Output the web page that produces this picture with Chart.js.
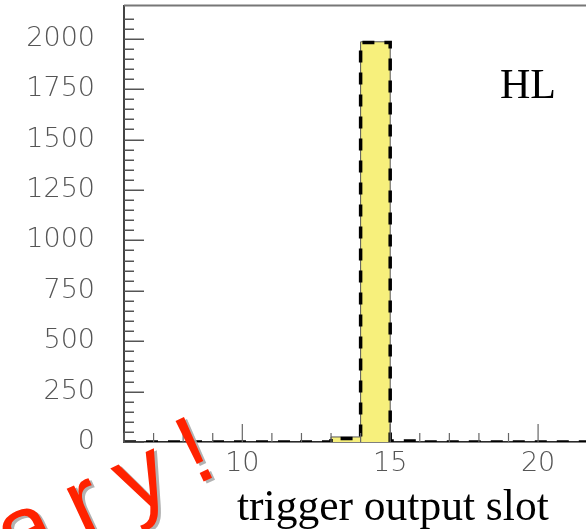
<!DOCTYPE html>
<html><head><meta charset="utf-8">
<script src="https://cdn.jsdelivr.net/npm/chart.js@4.4.0/dist/chart.umd.min.js"></script>
<style>html,body{margin:0;padding:0;background:#fff;}canvas{display:block;}</style>
</head><body>
<canvas id="c" width="586" height="529"></canvas>
<script>
// ---- data ----
const binEdges      = [6,7,8,9,10,11,12,13,14,15,16,17,18,19,20,21,22];
const dashedCounts  = [0,0,0,0,0,0,0,17,1982,5,0,0,0,0,0,0];
const filledCounts  = [0,0,0,0,0,0,0,25,1985,0,0,0,0,0,0,0];
const yTickLabels   = [0,250,500,750,1000,1250,1500,1750,2000];
const xTickLabels   = [10,15,20];
const xTitle        = 'trigger output slot';
const panelLabel    = 'HL';
const watermark     = 'Preliminary!';

function toSteps(counts){
  const pts = counts.map((v,i)=>({x:binEdges[i], y:v}));
  pts.push({x:binEdges[counts.length], y:counts[counts.length-1]});
  return pts;
}

const decor = {
  id:'decor',
  afterDraw(chart){
    const {ctx, chartArea:a, scales:{x,y}} = chart;
    ctx.save();
    // top frame line
    ctx.strokeStyle='#777'; ctx.lineWidth=2;
    ctx.beginPath(); ctx.moveTo(a.left, a.top); ctx.lineTo(a.right, a.top); ctx.stroke();
    // inward y ticks
    ctx.strokeStyle='#555'; ctx.lineWidth=1.5;
    y.ticks.forEach(t=>{
      if (t.value % 50 !== 0) return;
      const py = Math.round(y.getPixelForValue(t.value))+0.25;
      const len = (t.value % 250 === 0) ? 20 : 10;
      ctx.beginPath(); ctx.moveTo(a.left, py); ctx.lineTo(a.left+len, py); ctx.stroke();
    });
    // inward x ticks
    ctx.strokeStyle='#666'; ctx.lineWidth=1.2;
    x.ticks.forEach(t=>{
      if (Math.abs(t.value - Math.round(t.value))>1e-6) return;
      const px = x.getPixelForValue(t.value);
      const len = (Math.round(t.value) % 5 === 0) ? 18 : 9;
      ctx.beginPath(); ctx.moveTo(px, a.bottom); ctx.lineTo(px, a.bottom-len); ctx.stroke();
    });
    // x axis title
    ctx.fillStyle='#000';
    ctx.font='43.5px "Liberation Serif", "Times New Roman", serif';
    ctx.textAlign='left'; ctx.textBaseline='alphabetic';
    ctx.fillText(xTitle, 237, 520);
    // panel label
    ctx.font='42px "Liberation Serif", "Times New Roman", serif';
    ctx.fillText(panelLabel, 500, 98);
    // watermark
    ctx.save();
    ctx.translate(240, 464.5);
    ctx.rotate(-25*Math.PI/180);
    ctx.font='97px "Liberation Sans", Arial, sans-serif';
    try { ctx.letterSpacing='22px'; } catch(e){}
    ctx.textAlign='right'; ctx.textBaseline='alphabetic';
    ctx.shadowColor='rgba(170,170,170,0.9)';
    ctx.shadowOffsetX=3; ctx.shadowOffsetY=2; ctx.shadowBlur=0;
    ctx.fillStyle='#ff2200';
    ctx.fillText(watermark, 0, 0);
    ctx.restore();
    ctx.restore();
  }
};

new Chart(document.getElementById('c'), {
  type:'line',
  data:{
    datasets:[
      {
        label:'dashed',
        data: toSteps(dashedCounts),
        stepped:true,
        borderColor:'#000',
        borderWidth:3.5,
        borderDash:[12,10],
        borderCapStyle:'butt',
        pointRadius:0,
        fill:false
      },
      {
        label:'filled',
        data: toSteps(filledCounts),
        stepped:true,
        borderColor:'#555',
        borderWidth:1,
        backgroundColor:'#f7f07c',
        pointRadius:0,
        fill:'origin'
      }
    ]
  },
  options:{
    responsive:false,
    animation:false,
    layout:{padding:{top:5.5, right:0, left:0, bottom:0}},
    plugins:{legend:{display:false}, tooltip:{enabled:false}},
    scales:{
      x:{
        type:'linear', min:6, max:21.62,
        afterFit(s){ s.height = 87; s.paddingLeft = 0; s.paddingRight = 0; s.paddingTop = 0; s.paddingBottom = 0; },
        grid:{display:true, drawOnChartArea:false, drawTicks:false},
        border:{display:true, color:'#000', width:1.5},
        ticks:{
          stepSize:1, autoSkip:false, maxRotation:0, padding:6,
          color:'#555',
          font:{family:'"DejaVu Sans", sans-serif', size:27, weight:'200'},
          callback:(v)=> xTickLabels.includes(v) ? String(v) : ''
        }
      },
      y:{
        type:'linear', min:0, max:2165,
        afterFit(s){ s.width = 124; s.paddingLeft = 0; s.paddingRight = 0; s.paddingTop = 0; s.paddingBottom = 0; },
        grid:{display:true, drawOnChartArea:false, drawTicks:false},
        border:{display:true, color:'#444', width:2},
        ticks:{
          stepSize:50, autoSkip:false, padding:29,
          color:'#555',
          font:{family:'"DejaVu Sans", sans-serif', size:27, weight:'200'},
          callback:(v)=> yTickLabels.includes(v) ? String(v) : ''
        }
      }
    }
  },
  plugins:[decor]
});
</script>
</body></html>
